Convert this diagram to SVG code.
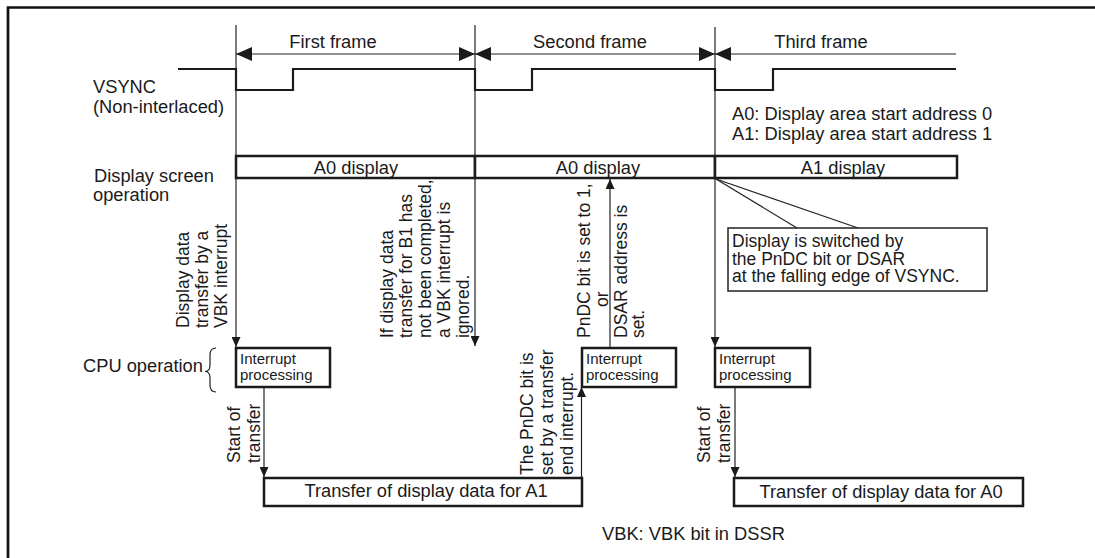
<svg xmlns="http://www.w3.org/2000/svg" width="1095" height="558" viewBox="0 0 1095 558">
<style>
text{font-family:"Liberation Sans",Arial,sans-serif;fill:#1a1a1a;font-size:18.3px}
.r{font-size:17.5px}
.s{font-size:15px}
.c{font-size:17.5px}
.box{fill:#fff;stroke:#1a1a1a;stroke-width:2.5}
.thin{fill:none;stroke:#222;stroke-width:1.2}
.wave{fill:none;stroke:#1a1a1a;stroke-width:2.2}
.mid{text-anchor:middle}
</style>
<defs>
<marker id="big" markerUnits="userSpaceOnUse" markerWidth="16" markerHeight="14" refX="16" refY="7" orient="auto-start-reverse"><path d="M0,0 L16,7 L0,14 z" fill="#1a1a1a"/></marker>
<marker id="sm" markerUnits="userSpaceOnUse" markerWidth="10" markerHeight="9" refX="10" refY="4.5" orient="auto"><path d="M0,0 L10,4.5 L0,9 z" fill="#1a1a1a"/></marker>
</defs>
<rect width="1095" height="558" fill="#fff"/>
<path d="M8,558 V7.5 H1095" fill="none" stroke="#111" stroke-width="2.7"/>

<g id="labels">
<text x="93" y="93">VSYNC</text>
<text x="93" y="113">(Non-interlaced)</text>
<text x="94" y="182">Display screen</text>
<text x="93" y="201">operation</text>
<text x="83" y="372">CPU operation</text>
<path class="thin" d="M216,348 Q210,348 210,355 L210,365 Q210,371.5 205,371.5 Q210,371.5 210,378 L210,385 Q210,392 216,392"/>
<text x="732" y="120">A0: Display area start address 0</text>
<text x="732" y="140">A1: Display area start address 1</text>
<text x="602" y="540">VBK: VBK bit in DSSR</text>
</g>

<g id="frames">
<text x="333" y="48" class="mid">First frame</text>
<text x="590" y="48" class="mid">Second frame</text>
<text x="821" y="48" class="mid">Third frame</text>
<line class="thin" x1="236" y1="54" x2="475" y2="54" marker-start="url(#big)" marker-end="url(#big)"/>
<line class="thin" x1="475" y1="54" x2="715" y2="54" marker-start="url(#big)" marker-end="url(#big)"/>
<line class="thin" x1="715" y1="54" x2="956" y2="54" marker-start="url(#big)"/>
</g>

<g id="vsync">
<path class="wave" d="M178,69 H236 V90 H293 V69 H475 V90 H532 V69 H715 V90 H773 V69 H956"/>
</g>

<g id="display-a0-1"><rect class="box" x="236" y="156" width="239" height="22" stroke-width="2"/><text x="356" y="174" class="mid">A0 display</text></g>
<g id="display-a0-2"><rect class="box" x="475" y="156" width="240" height="22" stroke-width="2"/><text x="598" y="174" class="mid">A0 display</text></g>
<g id="display-a1"><rect class="box" x="715" y="156" width="242" height="22" stroke-width="2"/><text x="843" y="174" class="mid">A1 display</text></g>

<g id="callout">
<rect x="728" y="228" width="259" height="63" fill="#fff" stroke="#222" stroke-width="1.5"/>
<text class="c" x="732" y="247">Display is switched by</text>
<text class="c" x="732" y="264.5">the PnDC bit or DSAR</text>
<text class="c" x="732" y="282">at the falling edge of VSYNC.</text>
</g>

<g id="int-1"><rect class="box" x="236" y="348" width="94" height="39"/><text class="s" x="240" y="364">Interrupt</text><text class="s" x="240" y="379.5">processing</text></g>
<g id="int-2"><rect class="box" x="582" y="348" width="94" height="39"/><text class="s" x="586" y="364">Interrupt</text><text class="s" x="586" y="379.5">processing</text></g>
<g id="int-3"><rect class="box" x="715" y="348" width="95" height="39"/><text class="s" x="719" y="364">Interrupt</text><text class="s" x="719" y="379.5">processing</text></g>

<g id="xfer-a1"><rect class="box" x="264" y="478" width="318" height="28"/><text x="426" y="497" class="mid">Transfer of display data for A1</text></g>
<g id="xfer-a0"><rect class="box" x="734" y="478" width="289" height="28"/><text x="881" y="498" class="mid">Transfer of display data for A0</text></g>

<g id="connectors">
<line class="thin" x1="236" y1="25" x2="236" y2="347" marker-end="url(#sm)"/>
<line class="thin" x1="475" y1="25" x2="475" y2="346" marker-end="url(#sm)"/>
<line class="thin" x1="715" y1="27" x2="715" y2="347" marker-end="url(#sm)"/>
<line class="thin" x1="264" y1="387" x2="264" y2="477" marker-end="url(#sm)"/>
<line class="thin" x1="735" y1="387" x2="735" y2="477" marker-end="url(#sm)"/>
<line class="thin" x1="581.5" y1="478" x2="581.5" y2="387" marker-end="url(#sm)"/>
<line class="thin" x1="610" y1="348" x2="610" y2="179" marker-end="url(#sm)"/>
<line class="thin" x1="716" y1="179" x2="797" y2="228"/>
<line class="thin" x1="716" y1="179" x2="858" y2="228"/>
</g>

<g id="rot-labels">
<text class="r" transform="translate(189,328) rotate(-90)">Display data</text>
<text class="r" transform="translate(208,328) rotate(-90)">transfer by a</text>
<text class="r" transform="translate(227,328) rotate(-90)">VBK interrupt</text>
<text class="r" transform="translate(393,338) rotate(-90)">If display data</text>
<text class="r" transform="translate(412,338) rotate(-90)">transfer for B1 has</text>
<text class="r" transform="translate(431,338) rotate(-90)">not been completed,</text>
<text class="r" transform="translate(450,338) rotate(-90)">a VBK interrupt is</text>
<text class="r" transform="translate(469,338) rotate(-90)">ignored.</text>
<text class="r" transform="translate(590,338) rotate(-90)">PnDC bit is set to 1,</text>
<text class="r" transform="translate(608,307) rotate(-90)">or</text>
<text class="r" transform="translate(626.5,338) rotate(-90)">DSAR address is</text>
<text class="r" transform="translate(644,338) rotate(-90)">set.</text>
<text class="r" transform="translate(533,475) rotate(-90)">The PnDC bit is</text>
<text class="r" transform="translate(553,475) rotate(-90)">set by a transfer</text>
<text class="r" transform="translate(573,475) rotate(-90)">end interrupt.</text>
<text class="r" transform="translate(240,463) rotate(-90)">Start of</text>
<text class="r" transform="translate(260,463) rotate(-90)">transfer</text>
<text class="r" transform="translate(710,463) rotate(-90)">Start of</text>
<text class="r" transform="translate(730,463) rotate(-90)">transfer</text>
</g>
</svg>
